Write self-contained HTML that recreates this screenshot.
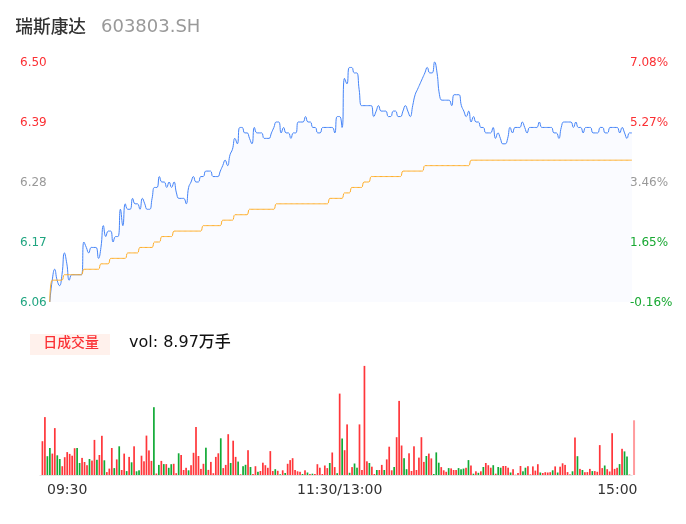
<!DOCTYPE html>
<html lang="zh-CN">
<head>
<meta charset="utf-8">
<title>瑞斯康达 603803.SH</title>
<style>
html,body{margin:0;padding:0;background:#fff;}
body{width:686px;height:524px;overflow:hidden;position:relative;font-family:"DejaVu Sans","Liberation Sans","Noto Sans CJK SC",sans-serif;}
svg{position:absolute;left:0;top:0;display:block;}
text{font-family:"DejaVu Sans","Liberation Sans","Noto Sans CJK SC",sans-serif;}
</style>
</head>
<body>
<svg width="686" height="524" viewBox="0 0 686 524" role="img" aria-label="瑞斯康达 603803.SH 分时图">
<rect width="686" height="524" fill="#ffffff"/>
<!-- price area + lines -->
<path d="M49.80,302.00C49.80,302.00 50.62,291.02 52.24,280.18C53.06,274.66 53.45,269.27 54.67,269.27C55.89,269.27 55.52,274.85 57.11,280.18C57.95,283.03 58.69,285.64 59.54,285.64C61.13,285.64 61.16,280.25 61.98,274.73C63.59,263.88 62.80,252.91 64.41,252.91C65.23,252.91 65.87,258.32 66.85,263.82C68.30,271.96 67.49,280.18 69.28,280.18C69.93,280.18 69.99,274.73 71.72,274.73C72.42,274.73 72.94,274.73 74.16,274.73C75.37,274.73 75.37,274.73 76.59,274.73C77.81,274.73 77.81,274.73 79.03,274.73C80.24,274.73 81.29,274.73 81.46,274.73C83.73,274.73 81.84,242.00 83.90,242.00C84.27,242.00 85.11,244.73 86.33,247.45C87.55,250.18 87.55,252.91 88.77,252.91C89.99,252.91 89.47,247.45 91.20,247.45C91.91,247.45 92.42,247.45 93.64,247.45C94.86,247.45 95.64,247.45 96.07,247.45C98.07,247.45 97.29,258.36 98.51,258.36C99.73,258.36 100.12,252.98 100.95,247.45C102.56,236.61 101.77,225.64 103.38,225.64C104.20,225.64 104.23,236.55 105.82,236.55C106.66,236.55 106.52,231.09 108.25,231.09C108.96,231.09 110.25,231.09 110.69,231.09C112.69,231.09 111.54,242.00 113.12,242.00C113.97,242.00 113.83,236.55 115.56,236.55C116.26,236.55 117.80,236.55 117.99,236.55C120.23,236.55 118.91,209.27 120.43,209.27C121.35,209.27 121.82,225.64 122.87,225.64C124.25,225.64 123.39,203.82 125.30,203.82C125.82,203.82 126.01,209.27 127.74,209.27C128.44,209.27 129.74,209.27 130.17,209.27C132.17,209.27 131.02,198.36 132.61,198.36C133.46,198.36 133.31,203.82 135.04,203.82C135.75,203.82 136.77,203.82 137.48,203.82C139.21,203.82 139.07,209.27 139.91,209.27C141.50,209.27 140.76,198.36 142.35,198.36C143.20,198.36 143.57,201.09 144.78,203.82C146.00,206.55 145.49,209.27 147.22,209.27C147.93,209.27 149.22,209.27 149.66,209.27C151.66,209.27 150.87,203.82 152.09,198.36C153.31,192.91 152.53,187.45 154.53,187.45C154.96,187.45 156.53,187.45 156.96,187.45C158.96,187.45 157.81,176.55 159.40,176.55C160.25,176.55 160.10,182.00 161.83,182.00C162.54,182.00 163.56,182.00 164.27,182.00C166.00,182.00 165.49,187.45 166.70,187.45C167.92,187.45 167.92,182.00 169.14,182.00C170.36,182.00 170.36,187.45 171.57,187.45C172.79,187.45 173.16,182.00 174.01,182.00C175.60,182.00 174.86,187.58 176.45,192.91C177.29,195.76 177.15,198.36 178.88,198.36C179.59,198.36 180.10,198.36 181.32,198.36C182.53,198.36 183.05,198.36 183.75,198.36C185.48,198.36 185.54,203.82 186.19,203.82C187.98,203.82 186.83,195.47 188.62,187.45C189.27,184.56 189.84,184.73 191.06,182.00C192.28,179.27 192.28,176.55 193.49,176.55C194.71,176.55 194.20,182.00 195.93,182.00C196.64,182.00 197.66,182.00 198.37,182.00C200.10,182.00 199.07,176.55 200.80,176.55C201.51,176.55 202.53,176.55 203.24,176.55C204.97,176.55 203.94,171.09 205.67,171.09C206.38,171.09 206.89,171.09 208.11,171.09C209.33,171.09 209.84,171.09 210.54,171.09C212.27,171.09 211.25,176.55 212.98,176.55C213.68,176.55 214.20,176.55 215.41,176.55C216.63,176.55 217.14,176.55 217.85,176.55C219.58,176.55 219.07,173.82 220.29,171.09C221.50,168.36 221.50,168.36 222.72,165.64C223.94,162.91 223.94,160.18 225.16,160.18C226.37,160.18 226.74,165.64 227.59,165.64C229.18,165.64 228.44,160.06 230.03,154.73C230.88,151.88 231.61,152.12 232.46,149.27C234.05,143.94 233.31,138.36 234.90,138.36C235.75,138.36 236.69,143.82 237.33,143.82C239.12,143.82 237.65,127.45 239.77,127.45C240.08,127.45 241.50,127.45 242.20,127.45C243.93,127.45 242.91,132.91 244.64,132.91C245.35,132.91 246.37,132.91 247.08,132.91C248.81,132.91 248.29,135.64 249.51,138.36C250.73,141.09 251.30,143.82 251.95,143.82C253.74,143.82 252.59,127.45 254.38,127.45C255.03,127.45 255.09,132.91 256.82,132.91C257.52,132.91 258.04,132.91 259.25,132.91C260.47,132.91 260.98,132.91 261.69,132.91C263.42,132.91 262.39,138.36 264.12,138.36C264.83,138.36 265.34,138.36 266.56,138.36C267.78,138.36 268.29,138.36 269.00,138.36C270.73,138.36 270.21,135.64 271.43,132.91C272.65,130.18 272.65,130.18 273.87,127.45C275.08,124.73 274.57,122.00 276.30,122.00C277.01,122.00 278.30,122.00 278.74,122.00C280.74,122.00 279.59,132.91 281.17,132.91C282.02,132.91 282.39,127.45 283.61,127.45C284.83,127.45 284.31,132.91 286.04,132.91C286.75,132.91 287.77,132.91 288.48,132.91C290.21,132.91 289.70,138.36 290.91,138.36C292.13,138.36 291.62,132.91 293.35,132.91C294.06,132.91 295.35,132.91 295.79,132.91C297.79,132.91 296.22,122.00 298.22,122.00C298.66,122.00 299.44,122.00 300.66,122.00C301.87,122.00 302.39,122.00 303.09,122.00C304.82,122.00 304.31,116.55 305.53,116.55C306.75,116.55 306.23,122.00 307.96,122.00C308.67,122.00 309.69,122.00 310.40,122.00C312.13,122.00 311.10,127.45 312.83,127.45C313.54,127.45 314.56,127.45 315.27,127.45C317.00,127.45 315.97,132.91 317.71,132.91C318.41,132.91 319.44,132.91 320.14,132.91C321.87,132.91 320.85,127.45 322.58,127.45C323.28,127.45 323.79,127.45 325.01,127.45C326.23,127.45 326.23,127.45 327.45,127.45C328.66,127.45 328.66,127.45 329.88,127.45C331.10,127.45 331.61,127.45 332.32,127.45C334.05,127.45 334.11,132.91 334.75,132.91C336.54,132.91 335.07,116.55 337.19,116.55C337.50,116.55 339.19,116.55 339.62,116.55C341.62,116.55 341.61,127.45 342.06,127.45C344.04,127.45 342.32,78.36 344.50,78.36C344.76,78.36 346.28,83.82 346.93,83.82C348.72,83.82 347.24,67.45 349.37,67.45C349.68,67.45 351.10,67.45 351.80,67.45C353.53,67.45 352.51,72.91 354.24,72.91C354.94,72.91 356.36,72.91 356.67,72.91C358.80,72.91 357.89,81.09 359.11,89.27C360.33,97.45 359.42,105.64 361.54,105.64C361.86,105.64 362.76,105.64 363.98,105.64C365.20,105.64 365.20,105.64 366.42,105.64C367.63,105.64 367.63,105.64 368.85,105.64C370.07,105.64 370.85,105.64 371.29,105.64C373.29,105.64 372.13,116.55 373.72,116.55C374.57,116.55 374.94,113.82 376.16,111.09C377.37,108.36 377.37,105.64 378.59,105.64C379.81,105.64 379.30,111.09 381.03,111.09C381.73,111.09 382.25,111.09 383.46,111.09C384.68,111.09 385.19,111.09 385.90,111.09C387.63,111.09 386.60,116.55 388.33,116.55C389.04,116.55 390.06,116.55 390.77,116.55C392.50,116.55 391.48,111.09 393.21,111.09C393.91,111.09 394.94,111.09 395.64,111.09C397.37,111.09 396.35,116.55 398.08,116.55C398.78,116.55 399.81,116.55 400.51,116.55C402.24,116.55 401.73,113.82 402.95,111.09C404.17,108.36 404.17,105.64 405.38,105.64C406.60,105.64 406.60,108.36 407.82,111.09C409.04,113.82 409.41,116.55 410.25,116.55C411.84,116.55 411.47,111.09 412.69,105.64C413.91,100.18 413.54,100.06 415.13,94.73C415.97,91.88 416.34,92.00 417.56,89.27C418.78,86.55 418.78,86.55 420.00,83.82C421.21,81.09 421.21,81.09 422.43,78.36C423.65,75.64 423.65,75.64 424.87,72.91C426.08,70.18 426.08,67.45 427.30,67.45C428.52,67.45 428.01,72.91 429.74,72.91C430.44,72.91 431.74,72.91 432.17,72.91C434.17,72.91 433.39,62.00 434.61,62.00C435.83,62.00 436.22,67.39 437.04,72.91C438.66,83.75 437.57,84.01 439.48,94.73C440.00,97.64 440.19,100.18 441.92,100.18C442.62,100.18 443.13,100.18 444.35,100.18C445.57,100.18 445.57,100.18 446.79,100.18C448.00,100.18 448.52,100.18 449.22,100.18C450.95,100.18 450.81,105.64 451.66,105.64C453.24,105.64 452.09,94.73 454.09,94.73C454.53,94.73 455.31,94.73 456.53,94.73C457.75,94.73 458.53,94.73 458.96,94.73C460.96,94.73 459.81,100.30 461.40,105.64C462.25,108.49 462.62,108.36 463.84,111.09C465.05,113.82 465.05,116.55 466.27,116.55C467.49,116.55 467.86,111.09 468.71,111.09C470.29,111.09 469.55,122.00 471.14,122.00C471.99,122.00 472.36,116.55 473.58,116.55C474.79,116.55 474.28,122.00 476.01,122.00C476.72,122.00 477.74,122.00 478.45,122.00C480.18,122.00 479.15,127.45 480.88,127.45C481.59,127.45 482.61,127.45 483.32,127.45C485.05,127.45 484.02,132.91 485.75,132.91C486.46,132.91 486.97,132.91 488.19,132.91C489.41,132.91 489.92,132.91 490.63,132.91C492.36,132.91 492.21,127.45 493.06,127.45C494.65,127.45 493.91,138.36 495.50,138.36C496.34,138.36 496.71,132.91 497.93,132.91C499.15,132.91 499.15,135.64 500.37,138.36C501.59,141.09 501.07,143.82 502.80,143.82C503.51,143.82 504.53,143.82 505.24,143.82C506.97,143.82 506.83,141.21 507.67,138.36C509.26,133.03 508.52,127.45 510.11,127.45C510.96,127.45 511.33,132.91 512.55,132.91C513.76,132.91 513.25,127.45 514.98,127.45C515.69,127.45 516.20,127.45 517.42,127.45C518.63,127.45 519.15,127.45 519.85,127.45C521.58,127.45 521.07,122.00 522.29,122.00C523.50,122.00 523.50,124.73 524.72,127.45C525.94,130.18 525.94,132.91 527.16,132.91C528.38,132.91 527.86,127.45 529.59,127.45C530.30,127.45 530.81,127.45 532.03,127.45C533.25,127.45 533.25,127.45 534.46,127.45C535.68,127.45 536.19,127.45 536.90,127.45C538.63,127.45 538.12,122.00 539.34,122.00C540.55,122.00 540.04,127.45 541.77,127.45C542.48,127.45 542.99,127.45 544.21,127.45C545.42,127.45 545.42,127.45 546.64,127.45C547.86,127.45 547.86,127.45 549.08,127.45C550.30,127.45 550.81,127.45 551.51,127.45C553.24,127.45 552.22,132.91 553.95,132.91C554.65,132.91 555.68,132.91 556.38,132.91C558.11,132.91 557.97,138.36 558.82,138.36C560.41,138.36 559.67,132.79 561.25,127.45C562.10,124.60 561.96,122.00 563.69,122.00C564.40,122.00 564.91,122.00 566.13,122.00C567.34,122.00 567.34,122.00 568.56,122.00C569.78,122.00 570.29,122.00 571.00,122.00C572.73,122.00 572.21,127.45 573.43,127.45C574.65,127.45 574.65,122.00 575.87,122.00C577.09,122.00 576.57,127.45 578.30,127.45C579.01,127.45 580.03,127.45 580.74,127.45C582.47,127.45 581.96,132.91 583.17,132.91C584.39,132.91 583.88,127.45 585.61,127.45C586.32,127.45 586.83,127.45 588.05,127.45C589.26,127.45 589.78,127.45 590.48,127.45C592.21,127.45 591.19,132.91 592.92,132.91C593.62,132.91 594.13,132.91 595.35,132.91C596.57,132.91 597.08,132.91 597.79,132.91C599.52,132.91 598.49,127.45 600.22,127.45C600.93,127.45 601.95,127.45 602.66,127.45C604.39,127.45 603.36,132.91 605.09,132.91C605.80,132.91 606.82,132.91 607.53,132.91C609.26,132.91 608.23,127.45 609.97,127.45C610.67,127.45 611.18,127.45 612.40,127.45C613.62,127.45 613.62,127.45 614.84,127.45C616.05,127.45 616.57,127.45 617.27,127.45C619.00,127.45 618.49,132.91 619.71,132.91C620.92,132.91 620.92,127.45 622.14,127.45C623.36,127.45 623.36,130.18 624.58,132.91C625.80,135.64 625.80,138.36 627.01,138.36C628.23,138.36 627.72,132.91 629.45,132.91C630.15,132.91 631.88,132.91 631.88,132.91L631.88,302.1L49.80,302.1Z" fill="#fafbff" stroke="none"/>
<path d="M49.80,302.00C49.80,302.00 50.62,291.02 52.24,280.18C53.06,274.66 53.45,269.27 54.67,269.27C55.89,269.27 55.52,274.85 57.11,280.18C57.95,283.03 58.69,285.64 59.54,285.64C61.13,285.64 61.16,280.25 61.98,274.73C63.59,263.88 62.80,252.91 64.41,252.91C65.23,252.91 65.87,258.32 66.85,263.82C68.30,271.96 67.49,280.18 69.28,280.18C69.93,280.18 69.99,274.73 71.72,274.73C72.42,274.73 72.94,274.73 74.16,274.73C75.37,274.73 75.37,274.73 76.59,274.73C77.81,274.73 77.81,274.73 79.03,274.73C80.24,274.73 81.29,274.73 81.46,274.73C83.73,274.73 81.84,242.00 83.90,242.00C84.27,242.00 85.11,244.73 86.33,247.45C87.55,250.18 87.55,252.91 88.77,252.91C89.99,252.91 89.47,247.45 91.20,247.45C91.91,247.45 92.42,247.45 93.64,247.45C94.86,247.45 95.64,247.45 96.07,247.45C98.07,247.45 97.29,258.36 98.51,258.36C99.73,258.36 100.12,252.98 100.95,247.45C102.56,236.61 101.77,225.64 103.38,225.64C104.20,225.64 104.23,236.55 105.82,236.55C106.66,236.55 106.52,231.09 108.25,231.09C108.96,231.09 110.25,231.09 110.69,231.09C112.69,231.09 111.54,242.00 113.12,242.00C113.97,242.00 113.83,236.55 115.56,236.55C116.26,236.55 117.80,236.55 117.99,236.55C120.23,236.55 118.91,209.27 120.43,209.27C121.35,209.27 121.82,225.64 122.87,225.64C124.25,225.64 123.39,203.82 125.30,203.82C125.82,203.82 126.01,209.27 127.74,209.27C128.44,209.27 129.74,209.27 130.17,209.27C132.17,209.27 131.02,198.36 132.61,198.36C133.46,198.36 133.31,203.82 135.04,203.82C135.75,203.82 136.77,203.82 137.48,203.82C139.21,203.82 139.07,209.27 139.91,209.27C141.50,209.27 140.76,198.36 142.35,198.36C143.20,198.36 143.57,201.09 144.78,203.82C146.00,206.55 145.49,209.27 147.22,209.27C147.93,209.27 149.22,209.27 149.66,209.27C151.66,209.27 150.87,203.82 152.09,198.36C153.31,192.91 152.53,187.45 154.53,187.45C154.96,187.45 156.53,187.45 156.96,187.45C158.96,187.45 157.81,176.55 159.40,176.55C160.25,176.55 160.10,182.00 161.83,182.00C162.54,182.00 163.56,182.00 164.27,182.00C166.00,182.00 165.49,187.45 166.70,187.45C167.92,187.45 167.92,182.00 169.14,182.00C170.36,182.00 170.36,187.45 171.57,187.45C172.79,187.45 173.16,182.00 174.01,182.00C175.60,182.00 174.86,187.58 176.45,192.91C177.29,195.76 177.15,198.36 178.88,198.36C179.59,198.36 180.10,198.36 181.32,198.36C182.53,198.36 183.05,198.36 183.75,198.36C185.48,198.36 185.54,203.82 186.19,203.82C187.98,203.82 186.83,195.47 188.62,187.45C189.27,184.56 189.84,184.73 191.06,182.00C192.28,179.27 192.28,176.55 193.49,176.55C194.71,176.55 194.20,182.00 195.93,182.00C196.64,182.00 197.66,182.00 198.37,182.00C200.10,182.00 199.07,176.55 200.80,176.55C201.51,176.55 202.53,176.55 203.24,176.55C204.97,176.55 203.94,171.09 205.67,171.09C206.38,171.09 206.89,171.09 208.11,171.09C209.33,171.09 209.84,171.09 210.54,171.09C212.27,171.09 211.25,176.55 212.98,176.55C213.68,176.55 214.20,176.55 215.41,176.55C216.63,176.55 217.14,176.55 217.85,176.55C219.58,176.55 219.07,173.82 220.29,171.09C221.50,168.36 221.50,168.36 222.72,165.64C223.94,162.91 223.94,160.18 225.16,160.18C226.37,160.18 226.74,165.64 227.59,165.64C229.18,165.64 228.44,160.06 230.03,154.73C230.88,151.88 231.61,152.12 232.46,149.27C234.05,143.94 233.31,138.36 234.90,138.36C235.75,138.36 236.69,143.82 237.33,143.82C239.12,143.82 237.65,127.45 239.77,127.45C240.08,127.45 241.50,127.45 242.20,127.45C243.93,127.45 242.91,132.91 244.64,132.91C245.35,132.91 246.37,132.91 247.08,132.91C248.81,132.91 248.29,135.64 249.51,138.36C250.73,141.09 251.30,143.82 251.95,143.82C253.74,143.82 252.59,127.45 254.38,127.45C255.03,127.45 255.09,132.91 256.82,132.91C257.52,132.91 258.04,132.91 259.25,132.91C260.47,132.91 260.98,132.91 261.69,132.91C263.42,132.91 262.39,138.36 264.12,138.36C264.83,138.36 265.34,138.36 266.56,138.36C267.78,138.36 268.29,138.36 269.00,138.36C270.73,138.36 270.21,135.64 271.43,132.91C272.65,130.18 272.65,130.18 273.87,127.45C275.08,124.73 274.57,122.00 276.30,122.00C277.01,122.00 278.30,122.00 278.74,122.00C280.74,122.00 279.59,132.91 281.17,132.91C282.02,132.91 282.39,127.45 283.61,127.45C284.83,127.45 284.31,132.91 286.04,132.91C286.75,132.91 287.77,132.91 288.48,132.91C290.21,132.91 289.70,138.36 290.91,138.36C292.13,138.36 291.62,132.91 293.35,132.91C294.06,132.91 295.35,132.91 295.79,132.91C297.79,132.91 296.22,122.00 298.22,122.00C298.66,122.00 299.44,122.00 300.66,122.00C301.87,122.00 302.39,122.00 303.09,122.00C304.82,122.00 304.31,116.55 305.53,116.55C306.75,116.55 306.23,122.00 307.96,122.00C308.67,122.00 309.69,122.00 310.40,122.00C312.13,122.00 311.10,127.45 312.83,127.45C313.54,127.45 314.56,127.45 315.27,127.45C317.00,127.45 315.97,132.91 317.71,132.91C318.41,132.91 319.44,132.91 320.14,132.91C321.87,132.91 320.85,127.45 322.58,127.45C323.28,127.45 323.79,127.45 325.01,127.45C326.23,127.45 326.23,127.45 327.45,127.45C328.66,127.45 328.66,127.45 329.88,127.45C331.10,127.45 331.61,127.45 332.32,127.45C334.05,127.45 334.11,132.91 334.75,132.91C336.54,132.91 335.07,116.55 337.19,116.55C337.50,116.55 339.19,116.55 339.62,116.55C341.62,116.55 341.61,127.45 342.06,127.45C344.04,127.45 342.32,78.36 344.50,78.36C344.76,78.36 346.28,83.82 346.93,83.82C348.72,83.82 347.24,67.45 349.37,67.45C349.68,67.45 351.10,67.45 351.80,67.45C353.53,67.45 352.51,72.91 354.24,72.91C354.94,72.91 356.36,72.91 356.67,72.91C358.80,72.91 357.89,81.09 359.11,89.27C360.33,97.45 359.42,105.64 361.54,105.64C361.86,105.64 362.76,105.64 363.98,105.64C365.20,105.64 365.20,105.64 366.42,105.64C367.63,105.64 367.63,105.64 368.85,105.64C370.07,105.64 370.85,105.64 371.29,105.64C373.29,105.64 372.13,116.55 373.72,116.55C374.57,116.55 374.94,113.82 376.16,111.09C377.37,108.36 377.37,105.64 378.59,105.64C379.81,105.64 379.30,111.09 381.03,111.09C381.73,111.09 382.25,111.09 383.46,111.09C384.68,111.09 385.19,111.09 385.90,111.09C387.63,111.09 386.60,116.55 388.33,116.55C389.04,116.55 390.06,116.55 390.77,116.55C392.50,116.55 391.48,111.09 393.21,111.09C393.91,111.09 394.94,111.09 395.64,111.09C397.37,111.09 396.35,116.55 398.08,116.55C398.78,116.55 399.81,116.55 400.51,116.55C402.24,116.55 401.73,113.82 402.95,111.09C404.17,108.36 404.17,105.64 405.38,105.64C406.60,105.64 406.60,108.36 407.82,111.09C409.04,113.82 409.41,116.55 410.25,116.55C411.84,116.55 411.47,111.09 412.69,105.64C413.91,100.18 413.54,100.06 415.13,94.73C415.97,91.88 416.34,92.00 417.56,89.27C418.78,86.55 418.78,86.55 420.00,83.82C421.21,81.09 421.21,81.09 422.43,78.36C423.65,75.64 423.65,75.64 424.87,72.91C426.08,70.18 426.08,67.45 427.30,67.45C428.52,67.45 428.01,72.91 429.74,72.91C430.44,72.91 431.74,72.91 432.17,72.91C434.17,72.91 433.39,62.00 434.61,62.00C435.83,62.00 436.22,67.39 437.04,72.91C438.66,83.75 437.57,84.01 439.48,94.73C440.00,97.64 440.19,100.18 441.92,100.18C442.62,100.18 443.13,100.18 444.35,100.18C445.57,100.18 445.57,100.18 446.79,100.18C448.00,100.18 448.52,100.18 449.22,100.18C450.95,100.18 450.81,105.64 451.66,105.64C453.24,105.64 452.09,94.73 454.09,94.73C454.53,94.73 455.31,94.73 456.53,94.73C457.75,94.73 458.53,94.73 458.96,94.73C460.96,94.73 459.81,100.30 461.40,105.64C462.25,108.49 462.62,108.36 463.84,111.09C465.05,113.82 465.05,116.55 466.27,116.55C467.49,116.55 467.86,111.09 468.71,111.09C470.29,111.09 469.55,122.00 471.14,122.00C471.99,122.00 472.36,116.55 473.58,116.55C474.79,116.55 474.28,122.00 476.01,122.00C476.72,122.00 477.74,122.00 478.45,122.00C480.18,122.00 479.15,127.45 480.88,127.45C481.59,127.45 482.61,127.45 483.32,127.45C485.05,127.45 484.02,132.91 485.75,132.91C486.46,132.91 486.97,132.91 488.19,132.91C489.41,132.91 489.92,132.91 490.63,132.91C492.36,132.91 492.21,127.45 493.06,127.45C494.65,127.45 493.91,138.36 495.50,138.36C496.34,138.36 496.71,132.91 497.93,132.91C499.15,132.91 499.15,135.64 500.37,138.36C501.59,141.09 501.07,143.82 502.80,143.82C503.51,143.82 504.53,143.82 505.24,143.82C506.97,143.82 506.83,141.21 507.67,138.36C509.26,133.03 508.52,127.45 510.11,127.45C510.96,127.45 511.33,132.91 512.55,132.91C513.76,132.91 513.25,127.45 514.98,127.45C515.69,127.45 516.20,127.45 517.42,127.45C518.63,127.45 519.15,127.45 519.85,127.45C521.58,127.45 521.07,122.00 522.29,122.00C523.50,122.00 523.50,124.73 524.72,127.45C525.94,130.18 525.94,132.91 527.16,132.91C528.38,132.91 527.86,127.45 529.59,127.45C530.30,127.45 530.81,127.45 532.03,127.45C533.25,127.45 533.25,127.45 534.46,127.45C535.68,127.45 536.19,127.45 536.90,127.45C538.63,127.45 538.12,122.00 539.34,122.00C540.55,122.00 540.04,127.45 541.77,127.45C542.48,127.45 542.99,127.45 544.21,127.45C545.42,127.45 545.42,127.45 546.64,127.45C547.86,127.45 547.86,127.45 549.08,127.45C550.30,127.45 550.81,127.45 551.51,127.45C553.24,127.45 552.22,132.91 553.95,132.91C554.65,132.91 555.68,132.91 556.38,132.91C558.11,132.91 557.97,138.36 558.82,138.36C560.41,138.36 559.67,132.79 561.25,127.45C562.10,124.60 561.96,122.00 563.69,122.00C564.40,122.00 564.91,122.00 566.13,122.00C567.34,122.00 567.34,122.00 568.56,122.00C569.78,122.00 570.29,122.00 571.00,122.00C572.73,122.00 572.21,127.45 573.43,127.45C574.65,127.45 574.65,122.00 575.87,122.00C577.09,122.00 576.57,127.45 578.30,127.45C579.01,127.45 580.03,127.45 580.74,127.45C582.47,127.45 581.96,132.91 583.17,132.91C584.39,132.91 583.88,127.45 585.61,127.45C586.32,127.45 586.83,127.45 588.05,127.45C589.26,127.45 589.78,127.45 590.48,127.45C592.21,127.45 591.19,132.91 592.92,132.91C593.62,132.91 594.13,132.91 595.35,132.91C596.57,132.91 597.08,132.91 597.79,132.91C599.52,132.91 598.49,127.45 600.22,127.45C600.93,127.45 601.95,127.45 602.66,127.45C604.39,127.45 603.36,132.91 605.09,132.91C605.80,132.91 606.82,132.91 607.53,132.91C609.26,132.91 608.23,127.45 609.97,127.45C610.67,127.45 611.18,127.45 612.40,127.45C613.62,127.45 613.62,127.45 614.84,127.45C616.05,127.45 616.57,127.45 617.27,127.45C619.00,127.45 618.49,132.91 619.71,132.91C620.92,132.91 620.92,127.45 622.14,127.45C623.36,127.45 623.36,130.18 624.58,132.91C625.80,135.64 625.80,138.36 627.01,138.36C628.23,138.36 627.72,132.91 629.45,132.91C630.15,132.91 631.88,132.91 631.88,132.91" fill="none" stroke="#4584f8" stroke-width="1" stroke-linejoin="round"/>
<path d="M49.80,302.00C49.80,302.00 50.04,280.18 52.24,280.18C52.48,280.18 53.45,280.18 54.67,280.18C55.89,280.18 55.89,280.18 57.11,280.18C58.32,280.18 58.32,280.18 59.54,280.18C60.76,280.18 61.27,280.18 61.98,280.18C63.71,280.18 62.68,274.73 64.41,274.73C65.12,274.73 65.63,274.73 66.85,274.73C68.07,274.73 68.07,274.73 69.28,274.73C70.50,274.73 70.50,274.73 71.72,274.73C72.94,274.73 72.94,274.73 74.16,274.73C75.37,274.73 75.37,274.73 76.59,274.73C77.81,274.73 77.81,274.73 79.03,274.73C80.24,274.73 80.76,274.73 81.46,274.73C83.19,274.73 82.17,269.27 83.90,269.27C84.60,269.27 85.11,269.27 86.33,269.27C87.55,269.27 87.55,269.27 88.77,269.27C89.99,269.27 89.99,269.27 91.20,269.27C92.42,269.27 92.42,269.27 93.64,269.27C94.86,269.27 94.86,269.27 96.07,269.27C97.29,269.27 97.80,269.27 98.51,269.27C100.24,269.27 99.22,263.82 100.95,263.82C101.65,263.82 102.16,263.82 103.38,263.82C104.60,263.82 104.60,263.82 105.82,263.82C107.03,263.82 107.55,263.82 108.25,263.82C109.98,263.82 108.96,258.36 110.69,258.36C111.39,258.36 111.91,258.36 113.12,258.36C114.34,258.36 114.34,258.36 115.56,258.36C116.78,258.36 116.78,258.36 117.99,258.36C119.21,258.36 119.21,258.36 120.43,258.36C121.65,258.36 121.65,258.36 122.87,258.36C124.08,258.36 124.60,258.36 125.30,258.36C127.03,258.36 126.01,252.91 127.74,252.91C128.44,252.91 128.95,252.91 130.17,252.91C131.39,252.91 131.39,252.91 132.61,252.91C133.82,252.91 133.82,252.91 135.04,252.91C136.26,252.91 136.77,252.91 137.48,252.91C139.21,252.91 138.18,247.45 139.91,247.45C140.62,247.45 141.13,247.45 142.35,247.45C143.57,247.45 143.57,247.45 144.78,247.45C146.00,247.45 146.00,247.45 147.22,247.45C148.44,247.45 148.44,247.45 149.66,247.45C150.87,247.45 151.39,247.45 152.09,247.45C153.82,247.45 152.80,242.00 154.53,242.00C155.23,242.00 155.74,242.00 156.96,242.00C158.18,242.00 158.69,242.00 159.40,242.00C161.13,242.00 160.10,236.55 161.83,236.55C162.54,236.55 163.05,236.55 164.27,236.55C165.49,236.55 165.49,236.55 166.70,236.55C167.92,236.55 167.92,236.55 169.14,236.55C170.36,236.55 170.87,236.55 171.57,236.55C173.31,236.55 172.28,231.09 174.01,231.09C174.72,231.09 175.23,231.09 176.45,231.09C177.66,231.09 177.66,231.09 178.88,231.09C180.10,231.09 180.10,231.09 181.32,231.09C182.53,231.09 182.53,231.09 183.75,231.09C184.97,231.09 184.97,231.09 186.19,231.09C187.41,231.09 187.41,231.09 188.62,231.09C189.84,231.09 189.84,231.09 191.06,231.09C192.28,231.09 192.28,231.09 193.49,231.09C194.71,231.09 194.71,231.09 195.93,231.09C197.15,231.09 197.15,231.09 198.37,231.09C199.58,231.09 200.10,231.09 200.80,231.09C202.53,231.09 201.51,225.64 203.24,225.64C203.94,225.64 204.45,225.64 205.67,225.64C206.89,225.64 206.89,225.64 208.11,225.64C209.33,225.64 209.33,225.64 210.54,225.64C211.76,225.64 211.76,225.64 212.98,225.64C214.20,225.64 214.20,225.64 215.41,225.64C216.63,225.64 216.63,225.64 217.85,225.64C219.07,225.64 219.58,225.64 220.29,225.64C222.02,225.64 220.99,220.18 222.72,220.18C223.43,220.18 223.94,220.18 225.16,220.18C226.37,220.18 226.37,220.18 227.59,220.18C228.81,220.18 228.81,220.18 230.03,220.18C231.24,220.18 231.76,220.18 232.46,220.18C234.19,220.18 233.17,214.73 234.90,214.73C235.60,214.73 236.12,214.73 237.33,214.73C238.55,214.73 238.55,214.73 239.77,214.73C240.99,214.73 240.99,214.73 242.20,214.73C243.42,214.73 243.42,214.73 244.64,214.73C245.86,214.73 246.37,214.73 247.08,214.73C248.81,214.73 247.78,209.27 249.51,209.27C250.22,209.27 250.73,209.27 251.95,209.27C253.16,209.27 253.16,209.27 254.38,209.27C255.60,209.27 255.60,209.27 256.82,209.27C258.04,209.27 258.04,209.27 259.25,209.27C260.47,209.27 260.47,209.27 261.69,209.27C262.91,209.27 262.91,209.27 264.12,209.27C265.34,209.27 265.34,209.27 266.56,209.27C267.78,209.27 267.78,209.27 269.00,209.27C270.21,209.27 270.21,209.27 271.43,209.27C272.65,209.27 273.16,209.27 273.87,209.27C275.60,209.27 274.57,203.82 276.30,203.82C277.01,203.82 277.52,203.82 278.74,203.82C279.95,203.82 279.95,203.82 281.17,203.82C282.39,203.82 282.39,203.82 283.61,203.82C284.83,203.82 284.83,203.82 286.04,203.82C287.26,203.82 287.26,203.82 288.48,203.82C289.70,203.82 289.70,203.82 290.91,203.82C292.13,203.82 292.13,203.82 293.35,203.82C294.57,203.82 294.57,203.82 295.79,203.82C297.00,203.82 297.00,203.82 298.22,203.82C299.44,203.82 299.44,203.82 300.66,203.82C301.87,203.82 301.87,203.82 303.09,203.82C304.31,203.82 304.31,203.82 305.53,203.82C306.75,203.82 306.75,203.82 307.96,203.82C309.18,203.82 309.18,203.82 310.40,203.82C311.62,203.82 311.62,203.82 312.83,203.82C314.05,203.82 314.05,203.82 315.27,203.82C316.49,203.82 316.49,203.82 317.71,203.82C318.92,203.82 318.92,203.82 320.14,203.82C321.36,203.82 321.36,203.82 322.58,203.82C323.79,203.82 323.79,203.82 325.01,203.82C326.23,203.82 326.74,203.82 327.45,203.82C329.18,203.82 328.15,198.36 329.88,198.36C330.59,198.36 331.10,198.36 332.32,198.36C333.54,198.36 333.54,198.36 334.75,198.36C335.97,198.36 335.97,198.36 337.19,198.36C338.41,198.36 338.41,198.36 339.62,198.36C340.84,198.36 341.35,198.36 342.06,198.36C343.79,198.36 342.77,192.91 344.50,192.91C345.20,192.91 345.71,192.91 346.93,192.91C348.15,192.91 348.66,192.91 349.37,192.91C351.10,192.91 350.07,187.45 351.80,187.45C352.51,187.45 353.02,187.45 354.24,187.45C355.46,187.45 355.46,187.45 356.67,187.45C357.89,187.45 357.89,187.45 359.11,187.45C360.33,187.45 360.84,187.45 361.54,187.45C363.27,187.45 362.25,182.00 363.98,182.00C364.68,182.00 365.20,182.00 366.42,182.00C367.63,182.00 368.15,182.00 368.85,182.00C370.58,182.00 369.56,176.55 371.29,176.55C371.99,176.55 372.50,176.55 373.72,176.55C374.94,176.55 374.94,176.55 376.16,176.55C377.37,176.55 377.37,176.55 378.59,176.55C379.81,176.55 379.81,176.55 381.03,176.55C382.25,176.55 382.25,176.55 383.46,176.55C384.68,176.55 384.68,176.55 385.90,176.55C387.12,176.55 387.12,176.55 388.33,176.55C389.55,176.55 389.55,176.55 390.77,176.55C391.99,176.55 391.99,176.55 393.21,176.55C394.42,176.55 394.42,176.55 395.64,176.55C396.86,176.55 396.86,176.55 398.08,176.55C399.29,176.55 399.81,176.55 400.51,176.55C402.24,176.55 401.22,171.09 402.95,171.09C403.65,171.09 404.17,171.09 405.38,171.09C406.60,171.09 406.60,171.09 407.82,171.09C409.04,171.09 409.04,171.09 410.25,171.09C411.47,171.09 411.47,171.09 412.69,171.09C413.91,171.09 413.91,171.09 415.13,171.09C416.34,171.09 416.34,171.09 417.56,171.09C418.78,171.09 418.78,171.09 420.00,171.09C421.21,171.09 421.73,171.09 422.43,171.09C424.16,171.09 423.14,165.64 424.87,165.64C425.57,165.64 426.08,165.64 427.30,165.64C428.52,165.64 428.52,165.64 429.74,165.64C430.96,165.64 430.96,165.64 432.17,165.64C433.39,165.64 433.39,165.64 434.61,165.64C435.83,165.64 435.83,165.64 437.04,165.64C438.26,165.64 438.26,165.64 439.48,165.64C440.70,165.64 440.70,165.64 441.92,165.64C443.13,165.64 443.13,165.64 444.35,165.64C445.57,165.64 445.57,165.64 446.79,165.64C448.00,165.64 448.00,165.64 449.22,165.64C450.44,165.64 450.44,165.64 451.66,165.64C452.88,165.64 452.88,165.64 454.09,165.64C455.31,165.64 455.31,165.64 456.53,165.64C457.75,165.64 457.75,165.64 458.96,165.64C460.18,165.64 460.18,165.64 461.40,165.64C462.62,165.64 462.62,165.64 463.84,165.64C465.05,165.64 465.05,165.64 466.27,165.64C467.49,165.64 468.00,165.64 468.71,165.64C470.44,165.64 469.41,160.18 471.14,160.18C471.85,160.18 472.36,160.18 473.58,160.18C474.79,160.18 474.79,160.18 476.01,160.18C477.23,160.18 477.23,160.18 478.45,160.18C479.67,160.18 479.67,160.18 480.88,160.18C482.10,160.18 482.10,160.18 483.32,160.18C484.54,160.18 484.54,160.18 485.75,160.18C486.97,160.18 486.97,160.18 488.19,160.18C489.41,160.18 489.41,160.18 490.63,160.18C491.84,160.18 491.84,160.18 493.06,160.18C494.28,160.18 494.28,160.18 495.50,160.18C496.71,160.18 496.71,160.18 497.93,160.18C499.15,160.18 499.15,160.18 500.37,160.18C501.59,160.18 501.59,160.18 502.80,160.18C504.02,160.18 504.02,160.18 505.24,160.18C506.46,160.18 506.46,160.18 507.67,160.18C508.89,160.18 508.89,160.18 510.11,160.18C511.33,160.18 511.33,160.18 512.55,160.18C513.76,160.18 513.76,160.18 514.98,160.18C516.20,160.18 516.20,160.18 517.42,160.18C518.63,160.18 518.63,160.18 519.85,160.18C521.07,160.18 521.07,160.18 522.29,160.18C523.50,160.18 523.50,160.18 524.72,160.18C525.94,160.18 525.94,160.18 527.16,160.18C528.38,160.18 528.38,160.18 529.59,160.18C530.81,160.18 530.81,160.18 532.03,160.18C533.25,160.18 533.25,160.18 534.46,160.18C535.68,160.18 535.68,160.18 536.90,160.18C538.12,160.18 538.12,160.18 539.34,160.18C540.55,160.18 540.55,160.18 541.77,160.18C542.99,160.18 542.99,160.18 544.21,160.18C545.42,160.18 545.42,160.18 546.64,160.18C547.86,160.18 547.86,160.18 549.08,160.18C550.30,160.18 550.30,160.18 551.51,160.18C552.73,160.18 552.73,160.18 553.95,160.18C555.17,160.18 555.17,160.18 556.38,160.18C557.60,160.18 557.60,160.18 558.82,160.18C560.04,160.18 560.04,160.18 561.25,160.18C562.47,160.18 562.47,160.18 563.69,160.18C564.91,160.18 564.91,160.18 566.13,160.18C567.34,160.18 567.34,160.18 568.56,160.18C569.78,160.18 569.78,160.18 571.00,160.18C572.21,160.18 572.21,160.18 573.43,160.18C574.65,160.18 574.65,160.18 575.87,160.18C577.09,160.18 577.09,160.18 578.30,160.18C579.52,160.18 579.52,160.18 580.74,160.18C581.96,160.18 581.96,160.18 583.17,160.18C584.39,160.18 584.39,160.18 585.61,160.18C586.83,160.18 586.83,160.18 588.05,160.18C589.26,160.18 589.26,160.18 590.48,160.18C591.70,160.18 591.70,160.18 592.92,160.18C594.13,160.18 594.13,160.18 595.35,160.18C596.57,160.18 596.57,160.18 597.79,160.18C599.01,160.18 599.01,160.18 600.22,160.18C601.44,160.18 601.44,160.18 602.66,160.18C603.88,160.18 603.88,160.18 605.09,160.18C606.31,160.18 606.31,160.18 607.53,160.18C608.75,160.18 608.75,160.18 609.97,160.18C611.18,160.18 611.18,160.18 612.40,160.18C613.62,160.18 613.62,160.18 614.84,160.18C616.05,160.18 616.05,160.18 617.27,160.18C618.49,160.18 618.49,160.18 619.71,160.18C620.92,160.18 620.92,160.18 622.14,160.18C623.36,160.18 623.36,160.18 624.58,160.18C625.80,160.18 625.80,160.18 627.01,160.18C628.23,160.18 628.23,160.18 629.45,160.18C630.67,160.18 631.88,160.18 631.88,160.18" fill="none" stroke="#ffad26" stroke-width="1" stroke-linejoin="round"/>
<!-- volume -->
<rect x="30" y="334" width="80" height="21" fill="#fff1ec"/>
<rect x="39.5" y="475" width="593" height="1" fill="#e4e4e4"/>
<g shape-rendering="auto">
<rect x="41.58" y="441.2" width="1.7" height="33.8" fill="#ff363a"/>
<rect x="44.06" y="417.1" width="1.7" height="57.9" fill="#ff363a"/>
<rect x="46.53" y="456.2" width="1.7" height="18.8" fill="#12aa36"/>
<rect x="49.01" y="448.0" width="1.7" height="27.0" fill="#12aa36"/>
<rect x="51.49" y="453.6" width="1.7" height="21.4" fill="#ff363a"/>
<rect x="53.96" y="428.1" width="1.7" height="46.9" fill="#ff363a"/>
<rect x="56.44" y="455.3" width="1.7" height="19.7" fill="#12aa36"/>
<rect x="58.92" y="459.0" width="1.7" height="16.0" fill="#12aa36"/>
<rect x="61.40" y="466.2" width="1.7" height="8.8" fill="#ff363a"/>
<rect x="63.87" y="457.2" width="1.7" height="17.8" fill="#ff363a"/>
<rect x="66.35" y="452.1" width="1.7" height="22.9" fill="#ff363a"/>
<rect x="68.83" y="453.9" width="1.7" height="21.1" fill="#ff363a"/>
<rect x="71.30" y="455.7" width="1.7" height="19.3" fill="#ff363a"/>
<rect x="73.78" y="448.2" width="1.7" height="26.8" fill="#ff363a"/>
<rect x="76.26" y="448.0" width="1.7" height="27.0" fill="#12aa36"/>
<rect x="78.74" y="463.0" width="1.7" height="12.0" fill="#12aa36"/>
<rect x="81.21" y="457.9" width="1.7" height="17.1" fill="#ff363a"/>
<rect x="83.69" y="462.0" width="1.7" height="13.0" fill="#ff363a"/>
<rect x="86.17" y="465.2" width="1.7" height="9.8" fill="#ff363a"/>
<rect x="88.64" y="459.0" width="1.7" height="16.0" fill="#12aa36"/>
<rect x="91.12" y="460.6" width="1.7" height="14.4" fill="#ff363a"/>
<rect x="93.60" y="439.9" width="1.7" height="35.1" fill="#ff363a"/>
<rect x="96.07" y="459.8" width="1.7" height="15.2" fill="#12aa36"/>
<rect x="98.55" y="455.0" width="1.7" height="20.0" fill="#ff363a"/>
<rect x="101.03" y="435.8" width="1.7" height="39.2" fill="#ff363a"/>
<rect x="103.50" y="460.3" width="1.7" height="14.7" fill="#12aa36"/>
<rect x="105.98" y="472.1" width="1.7" height="2.9" fill="#ff363a"/>
<rect x="108.46" y="468.6" width="1.7" height="6.4" fill="#ff363a"/>
<rect x="110.94" y="448.0" width="1.7" height="27.0" fill="#ff363a"/>
<rect x="113.41" y="468.1" width="1.7" height="6.9" fill="#12aa36"/>
<rect x="115.89" y="459.4" width="1.7" height="15.6" fill="#ff363a"/>
<rect x="118.37" y="446.3" width="1.7" height="28.7" fill="#12aa36"/>
<rect x="120.84" y="470.0" width="1.7" height="5.0" fill="#ff363a"/>
<rect x="123.32" y="453.6" width="1.7" height="21.4" fill="#ff363a"/>
<rect x="125.80" y="471.1" width="1.7" height="3.9" fill="#12aa36"/>
<rect x="128.28" y="456.9" width="1.7" height="18.1" fill="#ff363a"/>
<rect x="130.75" y="462.3" width="1.7" height="12.7" fill="#12aa36"/>
<rect x="133.23" y="446.3" width="1.7" height="28.7" fill="#ff363a"/>
<rect x="135.71" y="471.3" width="1.7" height="3.7" fill="#12aa36"/>
<rect x="138.18" y="470.3" width="1.7" height="4.7" fill="#12aa36"/>
<rect x="140.66" y="455.7" width="1.7" height="19.3" fill="#ff363a"/>
<rect x="143.14" y="461.3" width="1.7" height="13.7" fill="#ff363a"/>
<rect x="145.61" y="435.6" width="1.7" height="39.4" fill="#ff363a"/>
<rect x="148.09" y="450.4" width="1.7" height="24.6" fill="#ff363a"/>
<rect x="150.57" y="460.9" width="1.7" height="14.1" fill="#ff363a"/>
<rect x="153.04" y="407.2" width="1.7" height="67.8" fill="#12aa36"/>
<rect x="155.52" y="473.5" width="1.7" height="1.5" fill="#ff363a"/>
<rect x="158.00" y="464.9" width="1.7" height="10.1" fill="#12aa36"/>
<rect x="160.48" y="460.9" width="1.7" height="14.1" fill="#ff363a"/>
<rect x="162.95" y="464.1" width="1.7" height="10.9" fill="#12aa36"/>
<rect x="165.43" y="464.1" width="1.7" height="10.9" fill="#ff363a"/>
<rect x="167.91" y="467.8" width="1.7" height="7.2" fill="#12aa36"/>
<rect x="170.38" y="464.2" width="1.7" height="10.8" fill="#12aa36"/>
<rect x="172.86" y="463.8" width="1.7" height="11.2" fill="#ff363a"/>
<rect x="175.34" y="473.2" width="1.7" height="1.8" fill="#ff363a"/>
<rect x="177.81" y="453.3" width="1.7" height="21.7" fill="#12aa36"/>
<rect x="180.29" y="455.0" width="1.7" height="20.0" fill="#ff363a"/>
<rect x="182.77" y="470.0" width="1.7" height="5.0" fill="#ff363a"/>
<rect x="185.25" y="467.8" width="1.7" height="7.2" fill="#ff363a"/>
<rect x="187.72" y="470.3" width="1.7" height="4.7" fill="#12aa36"/>
<rect x="190.20" y="465.2" width="1.7" height="9.8" fill="#ff363a"/>
<rect x="192.68" y="452.8" width="1.7" height="22.2" fill="#ff363a"/>
<rect x="195.15" y="427.0" width="1.7" height="48.0" fill="#ff363a"/>
<rect x="197.63" y="456.0" width="1.7" height="19.0" fill="#ff363a"/>
<rect x="200.11" y="468.9" width="1.7" height="6.1" fill="#ff363a"/>
<rect x="202.59" y="463.8" width="1.7" height="11.2" fill="#ff363a"/>
<rect x="205.06" y="447.7" width="1.7" height="27.3" fill="#12aa36"/>
<rect x="207.54" y="469.9" width="1.7" height="5.1" fill="#ff363a"/>
<rect x="210.02" y="461.9" width="1.7" height="13.1" fill="#ff363a"/>
<rect x="212.49" y="473.2" width="1.7" height="1.8" fill="#ff363a"/>
<rect x="214.97" y="456.9" width="1.7" height="18.1" fill="#ff363a"/>
<rect x="217.45" y="453.3" width="1.7" height="21.7" fill="#ff363a"/>
<rect x="219.92" y="438.3" width="1.7" height="36.7" fill="#12aa36"/>
<rect x="222.40" y="468.1" width="1.7" height="6.9" fill="#ff363a"/>
<rect x="224.88" y="464.9" width="1.7" height="10.1" fill="#ff363a"/>
<rect x="227.35" y="434.2" width="1.7" height="40.8" fill="#ff363a"/>
<rect x="229.83" y="463.0" width="1.7" height="12.0" fill="#12aa36"/>
<rect x="232.31" y="440.7" width="1.7" height="34.3" fill="#ff363a"/>
<rect x="234.79" y="456.9" width="1.7" height="18.1" fill="#ff363a"/>
<rect x="237.26" y="461.6" width="1.7" height="13.4" fill="#12aa36"/>
<rect x="239.74" y="474.3" width="1.7" height="0.7" fill="#ff363a"/>
<rect x="242.22" y="466.2" width="1.7" height="8.8" fill="#12aa36"/>
<rect x="244.69" y="464.8" width="1.7" height="10.2" fill="#12aa36"/>
<rect x="247.17" y="450.2" width="1.7" height="24.8" fill="#ff363a"/>
<rect x="249.65" y="467.0" width="1.7" height="8.0" fill="#12aa36"/>
<rect x="252.12" y="474.0" width="1.7" height="1.0" fill="#ff363a"/>
<rect x="254.60" y="466.2" width="1.7" height="8.8" fill="#ff363a"/>
<rect x="257.08" y="471.8" width="1.7" height="3.2" fill="#12aa36"/>
<rect x="259.56" y="471.0" width="1.7" height="4.0" fill="#ff363a"/>
<rect x="262.03" y="462.7" width="1.7" height="12.3" fill="#ff363a"/>
<rect x="264.51" y="465.2" width="1.7" height="9.8" fill="#ff363a"/>
<rect x="266.99" y="467.8" width="1.7" height="7.2" fill="#ff363a"/>
<rect x="269.46" y="451.1" width="1.7" height="23.9" fill="#ff363a"/>
<rect x="271.94" y="471.0" width="1.7" height="4.0" fill="#ff363a"/>
<rect x="274.42" y="469.2" width="1.7" height="5.8" fill="#12aa36"/>
<rect x="276.89" y="470.8" width="1.7" height="4.2" fill="#ff363a"/>
<rect x="279.37" y="474.3" width="1.7" height="0.7" fill="#12aa36"/>
<rect x="281.85" y="470.3" width="1.7" height="4.7" fill="#ff363a"/>
<rect x="284.33" y="473.0" width="1.7" height="2.0" fill="#12aa36"/>
<rect x="286.80" y="463.8" width="1.7" height="11.2" fill="#ff363a"/>
<rect x="289.28" y="460.1" width="1.7" height="14.9" fill="#ff363a"/>
<rect x="291.76" y="458.2" width="1.7" height="16.8" fill="#ff363a"/>
<rect x="294.23" y="470.0" width="1.7" height="5.0" fill="#ff363a"/>
<rect x="296.71" y="471.3" width="1.7" height="3.7" fill="#ff363a"/>
<rect x="299.19" y="471.8" width="1.7" height="3.2" fill="#ff363a"/>
<rect x="301.66" y="474.0" width="1.7" height="1.0" fill="#12aa36"/>
<rect x="304.14" y="470.3" width="1.7" height="4.7" fill="#ff363a"/>
<rect x="306.62" y="472.5" width="1.7" height="2.5" fill="#12aa36"/>
<rect x="309.10" y="474.0" width="1.7" height="1.0" fill="#ff363a"/>
<rect x="311.57" y="473.7" width="1.7" height="1.3" fill="#12aa36"/>
<rect x="314.05" y="474.0" width="1.7" height="1.0" fill="#ff363a"/>
<rect x="316.53" y="464.2" width="1.7" height="10.8" fill="#ff363a"/>
<rect x="319.00" y="467.7" width="1.7" height="7.3" fill="#ff363a"/>
<rect x="321.48" y="474.0" width="1.7" height="1.0" fill="#ff363a"/>
<rect x="323.96" y="465.5" width="1.7" height="9.5" fill="#ff363a"/>
<rect x="326.43" y="468.1" width="1.7" height="6.9" fill="#ff363a"/>
<rect x="328.91" y="463.0" width="1.7" height="12.0" fill="#12aa36"/>
<rect x="331.39" y="452.5" width="1.7" height="22.5" fill="#ff363a"/>
<rect x="333.87" y="467.1" width="1.7" height="7.9" fill="#ff363a"/>
<rect x="336.34" y="473.2" width="1.7" height="1.8" fill="#12aa36"/>
<rect x="338.82" y="393.6" width="1.7" height="81.4" fill="#ff363a"/>
<rect x="341.30" y="438.5" width="1.7" height="36.5" fill="#12aa36"/>
<rect x="343.77" y="450.2" width="1.7" height="24.8" fill="#ff363a"/>
<rect x="346.25" y="424.4" width="1.7" height="50.6" fill="#ff363a"/>
<rect x="348.73" y="472.8" width="1.7" height="2.2" fill="#12aa36"/>
<rect x="351.20" y="467.1" width="1.7" height="7.9" fill="#ff363a"/>
<rect x="353.68" y="463.5" width="1.7" height="11.5" fill="#12aa36"/>
<rect x="356.16" y="467.7" width="1.7" height="7.3" fill="#12aa36"/>
<rect x="358.64" y="424.4" width="1.7" height="50.6" fill="#ff363a"/>
<rect x="361.11" y="470.0" width="1.7" height="5.0" fill="#ff363a"/>
<rect x="363.59" y="365.9" width="1.7" height="109.1" fill="#ff363a"/>
<rect x="366.07" y="461.3" width="1.7" height="13.7" fill="#ff363a"/>
<rect x="368.54" y="463.0" width="1.7" height="12.0" fill="#12aa36"/>
<rect x="371.02" y="466.7" width="1.7" height="8.3" fill="#ff363a"/>
<rect x="373.50" y="474.0" width="1.7" height="1.0" fill="#ff363a"/>
<rect x="375.97" y="470.0" width="1.7" height="5.0" fill="#12aa36"/>
<rect x="378.45" y="470.0" width="1.7" height="5.0" fill="#ff363a"/>
<rect x="380.93" y="464.9" width="1.7" height="10.1" fill="#ff363a"/>
<rect x="383.41" y="470.0" width="1.7" height="5.0" fill="#12aa36"/>
<rect x="385.88" y="459.4" width="1.7" height="15.6" fill="#ff363a"/>
<rect x="388.36" y="446.7" width="1.7" height="28.3" fill="#ff363a"/>
<rect x="390.84" y="470.3" width="1.7" height="4.7" fill="#ff363a"/>
<rect x="393.31" y="467.0" width="1.7" height="8.0" fill="#12aa36"/>
<rect x="395.79" y="437.2" width="1.7" height="37.8" fill="#ff363a"/>
<rect x="398.27" y="400.9" width="1.7" height="74.1" fill="#ff363a"/>
<rect x="400.74" y="445.5" width="1.7" height="29.5" fill="#ff363a"/>
<rect x="403.22" y="458.2" width="1.7" height="16.8" fill="#12aa36"/>
<rect x="405.70" y="469.2" width="1.7" height="5.8" fill="#12aa36"/>
<rect x="408.18" y="453.3" width="1.7" height="21.7" fill="#ff363a"/>
<rect x="410.65" y="471.0" width="1.7" height="4.0" fill="#ff363a"/>
<rect x="413.13" y="446.3" width="1.7" height="28.7" fill="#ff363a"/>
<rect x="415.61" y="470.0" width="1.7" height="5.0" fill="#ff363a"/>
<rect x="418.08" y="457.6" width="1.7" height="17.4" fill="#ff363a"/>
<rect x="420.56" y="437.2" width="1.7" height="37.8" fill="#ff363a"/>
<rect x="423.04" y="461.9" width="1.7" height="13.1" fill="#ff363a"/>
<rect x="425.51" y="456.0" width="1.7" height="19.0" fill="#12aa36"/>
<rect x="427.99" y="453.6" width="1.7" height="21.4" fill="#ff363a"/>
<rect x="430.47" y="458.4" width="1.7" height="16.6" fill="#ff363a"/>
<rect x="432.95" y="474.0" width="1.7" height="1.0" fill="#12aa36"/>
<rect x="435.42" y="452.4" width="1.7" height="22.6" fill="#12aa36"/>
<rect x="437.90" y="462.7" width="1.7" height="12.3" fill="#12aa36"/>
<rect x="440.38" y="467.1" width="1.7" height="7.9" fill="#ff363a"/>
<rect x="442.85" y="470.3" width="1.7" height="4.7" fill="#ff363a"/>
<rect x="445.33" y="471.8" width="1.7" height="3.2" fill="#ff363a"/>
<rect x="447.81" y="468.1" width="1.7" height="6.9" fill="#12aa36"/>
<rect x="450.28" y="468.4" width="1.7" height="6.6" fill="#ff363a"/>
<rect x="452.76" y="470.0" width="1.7" height="5.0" fill="#ff363a"/>
<rect x="455.24" y="470.0" width="1.7" height="5.0" fill="#ff363a"/>
<rect x="457.72" y="468.1" width="1.7" height="6.9" fill="#12aa36"/>
<rect x="460.19" y="469.3" width="1.7" height="5.7" fill="#12aa36"/>
<rect x="462.67" y="468.6" width="1.7" height="6.4" fill="#12aa36"/>
<rect x="465.15" y="467.8" width="1.7" height="7.2" fill="#ff363a"/>
<rect x="467.62" y="460.1" width="1.7" height="14.9" fill="#12aa36"/>
<rect x="470.10" y="465.5" width="1.7" height="9.5" fill="#ff363a"/>
<rect x="472.58" y="473.7" width="1.7" height="1.3" fill="#12aa36"/>
<rect x="475.05" y="471.3" width="1.7" height="3.7" fill="#ff363a"/>
<rect x="477.53" y="472.8" width="1.7" height="2.2" fill="#12aa36"/>
<rect x="480.01" y="471.3" width="1.7" height="3.7" fill="#ff363a"/>
<rect x="482.49" y="467.0" width="1.7" height="8.0" fill="#12aa36"/>
<rect x="484.96" y="463.0" width="1.7" height="12.0" fill="#ff363a"/>
<rect x="487.44" y="465.2" width="1.7" height="9.8" fill="#ff363a"/>
<rect x="489.92" y="467.7" width="1.7" height="7.3" fill="#ff363a"/>
<rect x="492.39" y="465.2" width="1.7" height="9.8" fill="#12aa36"/>
<rect x="494.87" y="473.7" width="1.7" height="1.3" fill="#ff363a"/>
<rect x="497.35" y="467.0" width="1.7" height="8.0" fill="#12aa36"/>
<rect x="499.82" y="467.7" width="1.7" height="7.3" fill="#12aa36"/>
<rect x="502.30" y="466.0" width="1.7" height="9.0" fill="#ff363a"/>
<rect x="504.78" y="466.0" width="1.7" height="9.0" fill="#ff363a"/>
<rect x="507.26" y="467.7" width="1.7" height="7.3" fill="#ff363a"/>
<rect x="509.73" y="472.5" width="1.7" height="2.5" fill="#12aa36"/>
<rect x="512.21" y="469.2" width="1.7" height="5.8" fill="#ff363a"/>
<rect x="514.69" y="474.7" width="1.7" height="0.3" fill="#ff363a"/>
<rect x="517.16" y="473.0" width="1.7" height="2.0" fill="#ff363a"/>
<rect x="519.64" y="466.0" width="1.7" height="9.0" fill="#ff363a"/>
<rect x="522.12" y="471.3" width="1.7" height="3.7" fill="#12aa36"/>
<rect x="524.59" y="467.7" width="1.7" height="7.3" fill="#12aa36"/>
<rect x="527.07" y="466.2" width="1.7" height="8.8" fill="#ff363a"/>
<rect x="529.55" y="474.4" width="1.7" height="0.6" fill="#ff363a"/>
<rect x="532.03" y="466.4" width="1.7" height="8.6" fill="#ff363a"/>
<rect x="534.50" y="470.6" width="1.7" height="4.4" fill="#ff363a"/>
<rect x="536.98" y="464.2" width="1.7" height="10.8" fill="#ff363a"/>
<rect x="539.46" y="472.5" width="1.7" height="2.5" fill="#12aa36"/>
<rect x="541.93" y="473.0" width="1.7" height="2.0" fill="#ff363a"/>
<rect x="544.41" y="472.2" width="1.7" height="2.8" fill="#ff363a"/>
<rect x="546.89" y="472.5" width="1.7" height="2.5" fill="#ff363a"/>
<rect x="549.36" y="472.2" width="1.7" height="2.8" fill="#ff363a"/>
<rect x="551.84" y="470.3" width="1.7" height="4.7" fill="#12aa36"/>
<rect x="554.32" y="466.4" width="1.7" height="8.6" fill="#ff363a"/>
<rect x="556.80" y="472.5" width="1.7" height="2.5" fill="#12aa36"/>
<rect x="559.27" y="466.7" width="1.7" height="8.3" fill="#ff363a"/>
<rect x="561.75" y="463.3" width="1.7" height="11.7" fill="#ff363a"/>
<rect x="564.23" y="464.9" width="1.7" height="10.1" fill="#ff363a"/>
<rect x="566.70" y="472.1" width="1.7" height="2.9" fill="#ff363a"/>
<rect x="569.18" y="474.3" width="1.7" height="0.7" fill="#ff363a"/>
<rect x="571.66" y="471.3" width="1.7" height="3.7" fill="#12aa36"/>
<rect x="574.13" y="437.5" width="1.7" height="37.5" fill="#ff363a"/>
<rect x="576.61" y="456.2" width="1.7" height="18.8" fill="#12aa36"/>
<rect x="579.09" y="468.9" width="1.7" height="6.1" fill="#ff363a"/>
<rect x="581.57" y="470.0" width="1.7" height="5.0" fill="#12aa36"/>
<rect x="584.04" y="472.2" width="1.7" height="2.8" fill="#ff363a"/>
<rect x="586.52" y="472.1" width="1.7" height="2.9" fill="#ff363a"/>
<rect x="589.00" y="468.9" width="1.7" height="6.1" fill="#ff363a"/>
<rect x="591.47" y="471.1" width="1.7" height="3.9" fill="#12aa36"/>
<rect x="593.95" y="471.1" width="1.7" height="3.9" fill="#ff363a"/>
<rect x="596.43" y="471.8" width="1.7" height="3.2" fill="#ff363a"/>
<rect x="598.90" y="445.1" width="1.7" height="29.9" fill="#ff363a"/>
<rect x="601.38" y="468.1" width="1.7" height="6.9" fill="#ff363a"/>
<rect x="603.86" y="465.5" width="1.7" height="9.5" fill="#12aa36"/>
<rect x="606.34" y="469.2" width="1.7" height="5.8" fill="#ff363a"/>
<rect x="608.81" y="471.5" width="1.7" height="3.5" fill="#ff363a"/>
<rect x="611.29" y="433.2" width="1.7" height="41.8" fill="#ff363a"/>
<rect x="613.77" y="468.9" width="1.7" height="6.1" fill="#ff363a"/>
<rect x="616.24" y="467.8" width="1.7" height="7.2" fill="#ff363a"/>
<rect x="618.72" y="464.1" width="1.7" height="10.9" fill="#12aa36"/>
<rect x="621.20" y="448.8" width="1.7" height="26.2" fill="#ff363a"/>
<rect x="623.67" y="451.4" width="1.7" height="23.6" fill="#12aa36"/>
<rect x="626.15" y="456.5" width="1.7" height="18.5" fill="#12aa36"/>
<rect x="628.63" y="474.5" width="1.7" height="0.5" fill="#ff363a"/>
<rect x="633.05" y="420.3" width="2.0" height="54.7" fill="#ff9c9e"/>
</g>
<!-- labels -->
<text x="15.25" y="32.6" font-size="17.7" font-weight="500" fill="#333333">瑞斯康达</text>
<text x="101" y="32" font-size="18" fill="#999999">603803.SH</text>
<g font-size="12">
<text x="20" y="65.5" fill="#fb3034">6.50</text>
<text x="20" y="125.5" fill="#fb3034">6.39</text>
<text x="20" y="185.5" fill="#999999">6.28</text>
<text x="20" y="245.5" fill="#20a580">6.17</text>
<text x="20" y="305.5" fill="#20a580">6.06</text>
<text x="630" y="65.5" fill="#fb3034">7.08%</text>
<text x="630" y="125.5" fill="#fb3034">5.27%</text>
<text x="630" y="185.5" fill="#999999">3.46%</text>
<text x="630" y="245.5" fill="#18a832">1.65%</text>
<text x="630" y="305.5" fill="#18a832">-0.16%</text>
</g>
<text x="43.3" y="346.8" font-size="13.9" font-weight="500" fill="#fb3034">日成交量</text>
<text x="129" y="347" font-size="16" font-weight="500" fill="#111111">vol: 8.97万手</text>
<g font-size="14" fill="#333333">
<text x="47" y="494">09:30</text>
<text x="339.7" y="494" text-anchor="middle">11:30/13:00</text>
<text x="637.5" y="494" text-anchor="end">15:00</text>
</g>
</svg>
</body>
</html>
